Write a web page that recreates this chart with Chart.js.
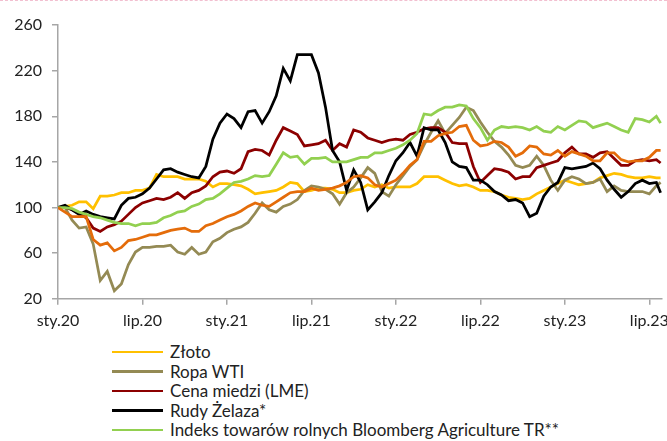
<!DOCTYPE html>
<html lang="pl">
<head>
<meta charset="utf-8">
<title>Ceny surowców</title>
<script src="https://cdn.jsdelivr.net/npm/chart.js@4/dist/chart.umd.min.js"></script>
<style>
  html, body { margin: 0; padding: 0; background: #fff; overflow: hidden; }
  #page { position: relative; width: 667px; height: 480px; }
  #topline { position: absolute; left: 0; top: 0; width: 667px; border-top: 1px dashed #f2bfd0; }
  #box { position: absolute; left: 0; top: 0; width: 667px; height: 336px; }
  #legend { position: absolute; left: 112px; top: 342px; font-family: Lato, "Open Sans", sans-serif;
            font-size: 17px; color: #222; }
  .item { display: flex; align-items: center; height: 19.5px; white-space: nowrap; }
  .sw { width: 51px; height: 2.5px; margin-right: 7px; flex: none; }
</style>
</head>
<body>
<div id="page">
  <div id="topline"></div>
  <div id="box"><canvas id="c" width="667" height="336"></canvas></div>
  <div id="legend"></div>
</div>
<script>
// Time axis in months since January 2020 (two-week sampling)
const months = [0,0.5,1,1.5,2,2.5,3,3.5,4,4.5,5,5.5,6,6.5,7,7.5,8,8.5,9,9.5,
  10,10.5,11,11.5,12,12.5,13,13.5,14,14.5,15,15.5,16,16.5,17,17.5,18,18.5,19,19.5,
  20,20.5,21,21.5,22,22.5,23,23.5,24,24.5,25,25.5,26,26.5,27,27.5,28,28.5,29,29.5,
  30,30.5,31,31.5,32,32.5,33,33.5,34,34.5,35,35.5,36,36.5,37,37.5,38,38.5,39,39.5,
  40,40.5,41,41.5,42,42.5,42.8];

const tickLabels = ['sty.20','lip.20','sty.21','lip.21','sty.22','lip.22','sty.23','lip.23'];

// Indices, styczeń 2020 = 100
const zloto = [100,101,102,105,105,99,110,110,111,113,
  113,115,115,117,129,127,127,127,125,125,
  125,123,118,121,121,120,119,116,112,113,
  114,115,118,122,121,114,115,117,117,116,
  113,113,115,116,120,118,120,117,118,118,
  118,121,127,127,127,124,121,119,120,118,
  115,115,114,111,109,108,107,108,112,115,
  118,121,124,122,120,121,122,126,128,130,
  129,127,126,126,127,126,126];

const ropaWTI = [100,100,89,82,83,68,36,44,27,33,
  50,61,65,65,66,66,67,61,59,65,
  59,61,70,73,78,81,83,87,95,104,
  98,96,101,103,107,115,119,118,116,112,
  103,113,118,126,135,130,114,110,120,128,
  136,142,155,166,176,165,172,179,188,185,
  175,166,158,153,146,137,135,137,145,137,
  124,115,124,127,125,121,122,125,114,119,
  115,114,114,114,112,119,122];

const miedz = [100,100,98,95,91,82,79,83,85,88,
  94,100,104,106,108,107,109,113,108,113,
  115,119,127,131,132,130,134,149,151,150,
  146,159,170,167,164,154,155,156,159,150,
  156,153,168,166,161,159,157,159,160,159,
  164,166,169,170,170,166,157,156,156,136,
  122,128,134,133,131,125,127,127,135,137,
  139,141,148,153,147,147,144,148,149,143,
  137,137,141,142,141,142,139];

const rudyZelaza = [100,102,98,94,97,94,92,91,90,102,
  108,109,112,117,125,133,134,131,129,127,
  126,136,160,174,182,178,170,184,185,174,
  184,198,222,211,234,234,234,218,188,150,
  140,115,133,122,98,105,113,128,141,148,
  157,145,170,168,168,157,140,136,135,124,
  124,120,114,111,106,107,104,92,95,110,
  118,122,135,134,135,136,139,134,124,116,
  109,114,121,124,121,122,113];

const rolne = [100,100,99,96,94,92,91,89,87,86,
  86,84,86,86,87,91,93,96,97,101,
  103,107,108,112,117,122,123,125,128,127,
  128,138,148,144,145,138,143,143,144,140,
  140,140,142,144,144,148,148,150,152,155,
  159,165,182,181,185,188,188,190,189,178,
  170,159,168,171,170,171,170,168,171,167,
  166,171,168,172,176,175,170,172,174,171,
  168,166,178,177,175,180,174];

const pomaranczowa = [100,96,92,92,92,72,67,69,62,65,
  71,72,74,76,76,78,80,81,82,79,
  79,84,86,89,92,94,97,101,104,102,
  101,105,109,113,114,114,117,115,116,117,
  119,122,127,128,126,120,118,121,124,130,
  137,142,158,158,163,165,166,171,172,159,
  154,155,158,157,153,145,148,154,153,147,
  146,150,145,149,147,145,141,141,148,148,
  142,140,141,141,144,150,150];

const seriesDefs = [
  { label: 'Złoto', values: zloto, color: '#FFC000' },
  { label: 'Ropa WTI', values: ropaWTI, color: '#948A54' },
  { label: 'Cena miedzi (LME)', values: miedz, color: '#8C0000' },
  { label: 'Rudy Żelaza*', values: rudyZelaza, color: '#000000' },
  { label: 'Indeks towarów rolnych Bloomberg Agriculture TR**', values: rolne, color: '#92D050' },
  { label: '', values: pomaranczowa, color: '#E46C0A' }
];

const axisColor = '#a6a6a6';
const tickFont = { family: 'Lato, "Open Sans", sans-serif', size: 16 };

const datasets = seriesDefs.map((s, i) => ({
  label: s.label,
  data: s.values.map((v, k) => ({ x: months[k], y: v })),
  borderColor: s.color,
  backgroundColor: s.color,
  borderWidth: 2.75,
  pointRadius: 0,
  tension: 0,
  fill: false,
  order: seriesDefs.length - i
}));

const chart = new Chart(document.getElementById('c'), {
  type: 'line',
  data: { datasets },
  options: {
    responsive: false,
    animation: false,
    events: [],
    layout: { padding: { top: 25, right: 5, left: 0, bottom: 0 } },
    plugins: { legend: { display: false }, tooltip: { enabled: false } },
    scales: {
      x: {
        type: 'linear',
        min: 0,
        max: 42.9,
        ticks: {
          stepSize: 6,
          includeBounds: false,
          autoSkip: false,
          maxRotation: 0,
          padding: 6,
          color: '#222',
          font: tickFont,
          callback: v => tickLabels[v / 6]
        },
        grid: { drawOnChartArea: false, drawTicks: true, tickLength: 6, color: axisColor, lineWidth: 1.5 },
        border: { display: true, color: axisColor, width: 1.5 },
        afterFit(s) { s.paddingLeft = 0; s.paddingRight = 0; }
      },
      y: {
        min: 20,
        max: 260,
        ticks: { stepSize: 40, padding: 10, color: '#222', font: tickFont },
        grid: { drawOnChartArea: false, drawTicks: true, tickLength: 6, color: axisColor, lineWidth: 1.5 },
        border: { display: true, color: axisColor, width: 1.5 },
        afterFit(s) { s.width = 58; s.paddingTop = 0; s.paddingBottom = 0; }
      }
    }
  }
});

// Legend: one entry per row, line swatch followed by the series name
const legend = document.getElementById('legend');
chart.data.datasets.filter(d => d.label).forEach(d => {
  const row = document.createElement('div');
  row.className = 'item';
  const sw = document.createElement('span');
  sw.className = 'sw';
  sw.style.background = d.borderColor;
  const txt = document.createElement('span');
  txt.textContent = d.label;
  row.appendChild(sw);
  row.appendChild(txt);
  legend.appendChild(row);
});
</script>
</body>
</html>
